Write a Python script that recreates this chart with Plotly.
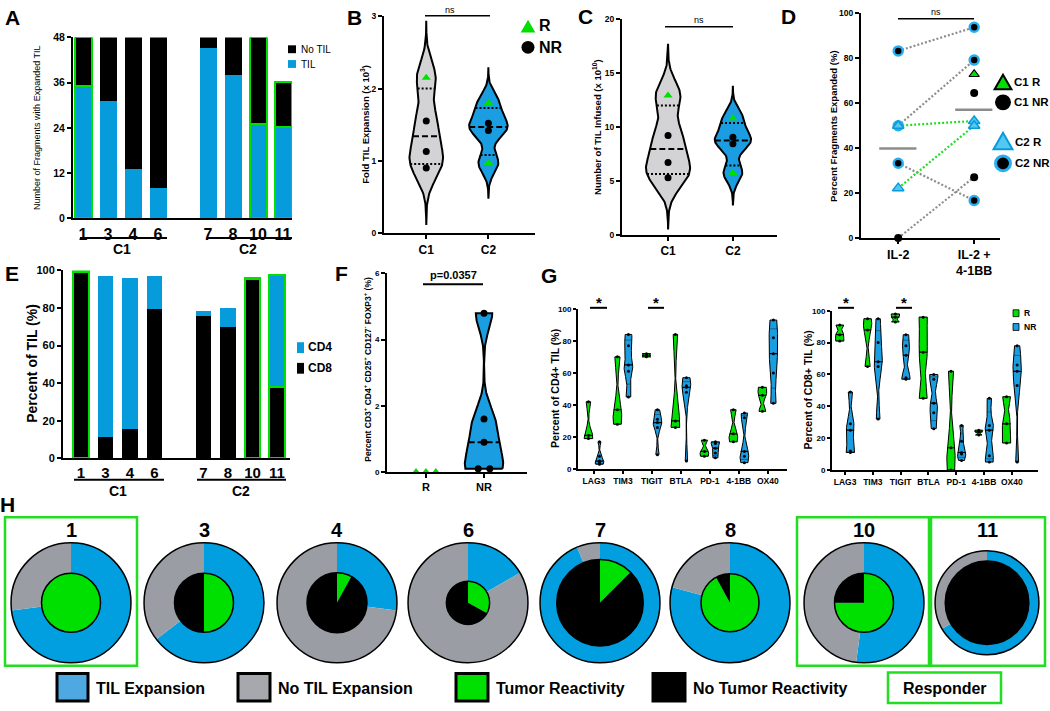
import numpy as np
import plotly.graph_objects as go

W, H = 1050, 711
FONT = 'Liberation Sans, Arial, Helvetica, sans-serif'

BLUE = '#069cdc'
BLUE_V = '#1b9de2'
BLUE_PIE = '#029fe0'
BLUE_LEG = '#4ea9e2'
GREEN = '#00e000'
GREEN_LINE = '#22dd22'
GRAY_PIE = '#9b9da4'
GRAY_LEG = '#a6a8ad'
GRAY_VIOLIN = '#d3d3d5'
DOT_GRAY = '#8c8c8c'

# ---------------------------------------------------------------------------
# Data
# ---------------------------------------------------------------------------
PATIENTS = ['1', '3', '4', '6', '7', '8', '10', '11']
COHORT = ['C1', 'C1', 'C1', 'C1', 'C2', 'C2', 'C2', 'C2']
RESPONDER = [True, False, False, False, False, False, True, True]
FRAG_TIL = [35, 31, 13, 8, 45, 38, 25, 24]          # fragments with TIL
FRAG_TOTAL = [48, 48, 48, 48, 48, 48, 48, 36]       # fragments plated
CD8_PCT = [99, 11, 15.5, 79, 75.5, 69.5, 95, 37.5]
CD4_PCT = [0.5, 86, 80, 18, 2.5, 10, 1, 60]
REACTIVE_PCT = [100, 50, 8, 33, 12.5, 92, 75, 0]

# B: fold expansion (x10^3), C: TIL infused (x10^10)
FOLD_C1 = [2.15, 1.55, 1.13, 0.90]
FOLD_C2 = [1.80, 1.52, 1.42, 0.97]
INFUSED_C1 = [12.9, 9.2, 6.7, 5.3]
INFUSED_C2 = [10.8, 9.05, 8.45, 5.75]
R_FLAG_C1 = [True, False, False, False]
R_FLAG_C2 = [True, False, False, True]

# D: percent fragments expanded, IL-2 vs IL-2 + 4-1BB
D_IL2 = [83.3, 50.0, 33.3, 50.0, 22.2, 0.0]
D_BB = [93.8, 79.2, 16.7, 52.1, 50.0, 27.1]
D_GROUP = ['C2 NR', 'C2 NR', 'C2 NR', 'C2 R', 'C2 R', 'C1 NR']
D_BB_ONLY = [72.9, 64.6]
D_BB_ONLY_GROUP = ['C1 R', 'C1 NR']

# F: Treg percent
TREG_R = [0.0, 0.0, 0.0]
TREG_NR = [4.8, 1.6, 0.9, 0.1, 0.1]

# G: checkpoint markers
G_MARKERS = ['LAG3', 'TIM3', 'TIGIT', 'BTLA', 'PD-1', '4-1BB', 'OX40']
CD4_R = [[19, 21, 42], [28, 37, 70], [70, 71, 72], [26, 30, 84],
         [8, 11, 18], [17, 22, 37], [36, 46, 51]]
CD4_NR = [[3, 4, 5, 8, 17], [45, 61, 65, 77, 84], [9, 26, 29, 31, 37],
          [5, 48, 51, 52, 57], [7, 10, 13, 16, 17], [4, 8, 11, 32, 35],
          [41, 60, 72, 82, 93]]
CD8_R = [[81, 85, 91], [65, 88, 95], [93, 96, 98], [45, 74, 96],
         [0, 14, 62], [22, 24, 25], [17, 29, 46]]
CD8_NR = [[11, 12, 25, 29, 49], [32, 65, 68, 80, 95], [57, 58, 72, 78, 85],
          [26, 36, 42, 57, 60], [6, 10, 11, 18, 28], [5, 9, 25, 28, 45],
          [5, 53, 62, 66, 78]]

# ---------------------------------------------------------------------------
# helpers
# ---------------------------------------------------------------------------
fig = go.Figure()


def X(px):
    return px / W


def Y(py):
    return 1 - py / H


def tf(size, bold=True):
    return dict(family=FONT, size=size, color='black', weight='bold' if bold else 'normal')


def set_axes(n, xpx, ypx, xr, yr, xkw=None, ykw=None):
    sfx = '' if n == 1 else str(n)
    base = dict(showline=True, linecolor='black', linewidth=2, showgrid=False,
                zeroline=False, ticks='outside', tickcolor='black', tickwidth=2,
                ticklen=4, fixedrange=True)
    xa = dict(base, domain=[X(xpx[0]), X(xpx[1])], range=xr, anchor='y' + sfx)
    ya = dict(base, domain=[Y(ypx[1]), Y(ypx[0])], range=yr, anchor='x' + sfx)
    xa.update(xkw or {})
    ya.update(ykw or {})
    fig.update_layout(**{'xaxis' + sfx: xa, 'yaxis' + sfx: ya})
    return 'x' + sfx, 'y' + sfx


def note(text, x, y, size, bold=True, angle=0, xanchor='center'):
    fig.add_annotation(text=text, x=X(x), y=Y(y), xref='paper', yref='paper',
                       showarrow=False, font=tf(size, bold), textangle=angle,
                       xanchor=xanchor, yanchor='middle')


def hline(x0, x1, y, color='black', width=2):
    fig.add_shape(type='line', x0=X(x0), x1=X(x1), y0=Y(y), y1=Y(y),
                  xref='paper', yref='paper', line=dict(color=color, width=width))


def box(x0, y0, x1, y1, fill, edge, lw):
    fig.add_shape(type='rect', x0=X(x0), x1=X(x1), y0=Y(y1), y1=Y(y0),
                  xref='paper', yref='paper', fillcolor=fill,
                  line=dict(color=edge, width=lw))


def tri(cx, cy, s, fill, edge, lw):
    pts = [(cx, cy - s), (cx + s * 1.05, cy + s * 0.85), (cx - s * 1.05, cy + s * 0.85)]
    path = 'M ' + ' L '.join(f'{X(a):.5f},{Y(b):.5f}' for a, b in pts) + ' Z'
    fig.add_shape(type='path', path=path, xref='paper', yref='paper',
                  fillcolor=fill, line=dict(color=edge, width=lw))


def dot(cx, cy, r, fill, edge, lw):
    fig.add_shape(type='circle', x0=X(cx - r), x1=X(cx + r), y0=Y(cy + r), y1=Y(cy - r),
                  xref='paper', yref='paper', fillcolor=fill,
                  line=dict(color=edge, width=lw))


def violin(xa, ya, center, vals, fill, half_w, bw_k, tail=0.0, lw=2.0,
           med=None, quart=None, n=160):
    """Gaussian-KDE violin outline drawn as a filled scatter polygon."""
    v = np.asarray(vals, float)
    bw = max(bw_k * v.std(ddof=1), 1e-6)
    lo, hi = v.min() - tail * bw, v.max() + tail * bw
    ys = np.linspace(lo, hi, n)
    dens = np.exp(-0.5 * ((ys[:, None] - v[None, :]) / bw) ** 2).sum(axis=1)
    w = dens / dens.max() * half_w
    xs = np.r_[center + w, (center - w)[::-1], center + w[0]]
    yy = np.r_[ys, ys[::-1], ys[0]]
    fig.add_trace(go.Scatter(x=xs, y=yy, mode='lines', fill='toself', fillcolor=fill,
                             line=dict(color='black', width=lw), xaxis=xa, yaxis=ya,
                             hoverinfo='skip', showlegend=False, cliponaxis=False))
    q1, q2, q3 = np.percentile(v, [25, 50, 75], method='weibull')
    lines = [(q2, med)] + ([(q1, quart), (q3, quart)] if quart else [])
    for q, st in lines:
        hw = float(np.interp(q, ys, w))
        fig.add_trace(go.Scatter(x=[center - hw, center + hw], y=[q, q], mode='lines',
                                 line=st, xaxis=xa, yaxis=ya, hoverinfo='skip',
                                 showlegend=False))


def points(xa, ya, xs, ys, symbol, color, size, edge='black', lw=0):
    fig.add_trace(go.Scatter(x=xs, y=ys, mode='markers', xaxis=xa, yaxis=ya,
                             marker=dict(symbol=symbol, color=color, size=size,
                                         line=dict(color=edge, width=lw)),
                             hoverinfo='skip', showlegend=False, cliponaxis=False))


def swarm(vals, step):
    """Offsets that spread repeated values side by side."""
    out, seen = [], {}
    counts = {v: vals.count(v) for v in vals}
    for v in vals:
        k = seen.get(v, 0)
        seen[v] = k + 1
        out.append((k - (counts[v] - 1) / 2) * step)
    return out


slots = [i + (1 if c == 'C2' else 0) for i, c in enumerate(COHORT)]
edge_col = [GREEN if r else 'rgba(0,0,0,0)' for r in RESPONDER]
edge_w = [2.5 if r else 0 for r in RESPONDER]

# ---------------------------------------------------------------------------
# A: fragments with expanded TIL
# ---------------------------------------------------------------------------
xa, ya = set_axes(1, (73, 292), (32, 216), [-0.4, 8.36], [0, 48],
                  xkw=dict(tickvals=slots, ticktext=PATIENTS, ticks='', tickfont=tf(16)),
                  ykw=dict(tickvals=[0, 12, 24, 36, 48], tickfont=tf(10.5)))
no_til = [t - s for t, s in zip(FRAG_TOTAL, FRAG_TIL)]
for vals, col in ((FRAG_TIL, BLUE), (no_til, 'black')):
    fig.add_trace(go.Bar(x=slots, y=vals, width=0.68, xaxis=xa, yaxis=ya,
                         marker=dict(color=col, line=dict(color=edge_col, width=edge_w)),
                         hoverinfo='skip', showlegend=False))
note('Number of Fragments with Expanded TIL', 37, 124, 9, bold=False, angle=-90)
hline(80, 167, 236)
hline(207, 292, 236)
note('C1', 122, 247, 14)
note('C2', 248, 247, 14)
box(288, 40, 296, 48, 'black', 'black', 0)
box(288, 55, 296, 63, BLUE, BLUE, 0)
note('No TIL', 299, 44, 10, bold=False, xanchor='left')
note('TIL', 299, 59, 10, bold=False, xanchor='left')

# ---------------------------------------------------------------------------
# B / C: violins
# ---------------------------------------------------------------------------
for n, xpx, ypx, xr, yr, dtick, c1, c2, widths, title, tx in (
        (2, (384, 535), (10.5, 231), [-0.68, 1.75], [0, 3], 1, FOLD_C1, FOLD_C2,
         (0.27, 0.31), 'Fold TIL Expansion (x 10<sup>3</sup>)', 365),
        (3, (622, 777), (13, 233), [-0.71, 1.68], [0, 20], 5, INFUSED_C1, INFUSED_C2,
         (0.34, 0.28), 'Number of TIL Infused (x 10<sup>10</sup>)', 597)):
    xa, ya = set_axes(n, xpx, ypx, xr, yr,
                      xkw=dict(tickvals=[0, 1], ticktext=['C1', 'C2'], tickfont=tf(12)),
                      ykw=dict(dtick=dtick, tickfont=tf(8.5)))
    for k, (vals, flags, fill) in enumerate(((c1, R_FLAG_C1, GRAY_VIOLIN),
                                             (c2, R_FLAG_C2, BLUE_V))):
        violin(xa, ya, k, vals, fill, widths[k], 0.41, tail=3.5, lw=2,
               med=dict(color='black', width=2, dash='6px,3px'),
               quart=dict(color='black', width=2, dash='2px,2px'))
        rv = [v for v, f in zip(vals, flags) if f]
        nv = [v for v, f in zip(vals, flags) if not f]
        points(xa, ya, [k] * len(nv), nv, 'circle', 'black', 7)
        points(xa, ya, [k] * len(rv), rv, 'triangle-up', GREEN, 8)
    note(title, tx, (ypx[0] + ypx[1]) / 2, 9.5, angle=-90)

hline(425, 490, 10, width=1.5)
note('ns', 450, 4, 9, bold=False)
hline(665, 733, 21, width=1.5)
note('ns', 699, 14, 9, bold=False)
tri(528, 21, 7, GREEN, GREEN, 0)
dot(528, 42, 6.5, 'black', 'black', 0)
note('R', 537, 20, 16, xanchor='left')
note('NR', 537, 42, 16, xanchor='left')

# ---------------------------------------------------------------------------
# D: paired IL-2 vs IL-2 + 4-1BB
# ---------------------------------------------------------------------------
xa, ya = set_axes(4, (861, 1000), (7.5, 236), [-0.49, 1.34], [0, 100],
                  xkw=dict(tickvals=[0, 1], ticktext=['IL-2', 'IL-2 +<br>4-1BB'],
                           tickfont=tf(12.5)),
                  ykw=dict(dtick=20, tickfont=tf(8.5)))
for a, b, g in zip(D_IL2, D_BB, D_GROUP):
    fig.add_trace(go.Scatter(x=[0, 1], y=[a, b], mode='lines', xaxis=xa, yaxis=ya,
                             line=dict(color=GREEN_LINE if g.endswith(' R') else DOT_GRAY,
                                       width=2.2, dash='2px,2px'),
                             hoverinfo='skip', showlegend=False))
for k, vals in enumerate((D_IL2, D_BB + D_BB_ONLY)):
    m = float(np.mean(vals))
    fig.add_trace(go.Scatter(x=[k - 0.25, k + 0.24], y=[m, m], mode='lines',
                             xaxis=xa, yaxis=ya, line=dict(color=DOT_GRAY, width=2.5),
                             hoverinfo='skip', showlegend=False))
D_STYLE = {
    'C1 NR': dict(symbol='circle', color='black', size=8, edge='black', lw=0),
    'C2 NR': dict(symbol='circle', color='black', size=9, edge='#27aef0', lw=2.5),
    'C1 R': dict(symbol='triangle-up', color=GREEN, size=9, edge='black', lw=1.2),
    'C2 R': dict(symbol='triangle-up', color='#56c7f0', size=10, edge=BLUE, lw=1.5),
}
for g in ('C1 NR', 'C2 NR', 'C1 R', 'C2 R'):
    st = D_STYLE[g]
    xs = [0 for gg in D_GROUP if gg == g] + \
         [1 for gg in D_GROUP if gg == g] + \
         [1 for gg in D_BB_ONLY_GROUP if gg == g]
    ys = [v for v, gg in zip(D_IL2, D_GROUP) if gg == g] + \
         [v for v, gg in zip(D_BB, D_GROUP) if gg == g] + \
         [v for v, gg in zip(D_BB_ONLY, D_BB_ONLY_GROUP) if gg == g]
    points(xa, ya, xs, ys, st['symbol'], st['color'], st['size'], st['edge'], st['lw'])
note('Percent Fragments Expanded (%)', 834, 122, 9.5, angle=-90)
hline(898, 974, 13, width=1.5)
note('ns', 936, 6, 9, bold=False)
tri(1003, 78, 8, GREEN, 'black', 2)
dot(1003, 98, 8, 'black', 'black', 0)
tri(1003, 138, 9, '#56c7f0', BLUE, 2)
dot(1003, 160, 7.5, 'black', '#27aef0', 3)
note('C1 R', 1012, 77, 11.5, xanchor='left')
note('C1 NR', 1012, 98, 11.5, xanchor='left')
note('C2 R', 1013, 138, 11.5, xanchor='left')
note('C2 NR', 1013, 160, 11.5, xanchor='left')

# ---------------------------------------------------------------------------
# E: CD4 / CD8 composition
# ---------------------------------------------------------------------------
xa, ya = set_axes(5, (63, 290), (269, 460), [-0.735, 8.53], [0, 100],
                  xkw=dict(tickvals=slots, ticktext=PATIENTS, ticks='', tickfont=tf(15)),
                  ykw=dict(dtick=20, tickfont=tf(11)))
for vals, col in ((CD8_PCT, 'black'), (CD4_PCT, BLUE)):
    fig.add_trace(go.Bar(x=slots, y=vals, width=0.65, xaxis=xa, yaxis=ya,
                         marker=dict(color=col, line=dict(color=edge_col, width=edge_w)),
                         hoverinfo='skip', showlegend=False))
note('Percent of TIL (%)', 32, 364, 14, angle=-90)
hline(74, 164, 482)
hline(197, 286, 482)
note('C1', 118, 493, 14)
note('C2', 241, 493, 14)
box(297, 342, 304, 353, BLUE, BLUE, 0)
box(297, 363, 304, 374, 'black', 'black', 0)
note('CD4', 306, 347, 12, xanchor='left')
note('CD8', 306, 368, 12, xanchor='left')

# ---------------------------------------------------------------------------
# F: Tregs
# ---------------------------------------------------------------------------
xa, ya = set_axes(6, (387, 527), (272, 474), [-0.67, 1.74], [0, 6],
                  xkw=dict(tickvals=[0, 1], ticktext=['R', 'NR'], tickfont=tf(11)),
                  ykw=dict(dtick=2, tickfont=tf(8)))
violin(xa, ya, 1, TREG_NR, BLUE_V, 0.33, 0.25, tail=0, lw=2,
       med=dict(color='black', width=2, dash='6px,3px'))
points(xa, ya, [0 + o for o in swarm(TREG_R, 0.17)], TREG_R, 'triangle-up', GREEN, 8)
points(xa, ya, [1 + o for o in swarm(TREG_NR, 0.2)], TREG_NR, 'circle', 'black', 7)
note('Percent CD3<sup>+</sup> CD4<sup>+</sup> CD25<sup>+</sup> CD127<sup>-</sup> '
     'FOXP3<sup>+</sup> (%)', 368, 370, 8.5, angle=-90)
hline(423, 483, 283, width=2)
note('p=0.0357', 453, 274, 11)

# ---------------------------------------------------------------------------
# G: checkpoint violins (CD4 left, CD8 right)
# ---------------------------------------------------------------------------
for n, xpx, ypx, xr, r_sets, nr_sets, title, tx in (
        (7, (578, 787), (308, 471), [-0.55, 6.66], CD4_R, CD4_NR,
         'Percent of CD4+ TIL (%)', 555),
        (8, (832, 1038), (310, 472), [-0.47, 6.94], CD8_R, CD8_NR,
         'Percent of CD8+ TIL (%)', 808)):
    xa, ya = set_axes(n, xpx, ypx, xr, [0, 100],
                      xkw=dict(tickvals=list(range(len(G_MARKERS))), ticktext=G_MARKERS,
                               ticklen=3, tickfont=tf(8.5)),
                      ykw=dict(dtick=20, ticklen=3, tickfont=tf(8)))
    for k in range(len(G_MARKERS)):
        for vals, off, col in ((r_sets[k], -0.19, GREEN), (nr_sets[k], 0.19, BLUE_V)):
            violin(xa, ya, k + off, vals, col, 0.15, 0.35, tail=0, lw=1,
                   med=dict(color='black', width=1.2),
                   quart=dict(color='rgba(0,0,0,0.45)', width=0.8))
            points(xa, ya, [k + off] * len(vals), vals, 'circle', 'black', 3)
    note(title, tx, (ypx[0] + ypx[1]) / 2, 10.5, angle=-90)

for x0, x1 in ((590, 607), (648, 664), (838, 854), (896, 912)):
    hline(x0, x1, 307, width=2)
    note('*', (x0 + x1) / 2, 302, 15)
box(1013, 309, 1019, 316, GREEN, 'black', 0.8)
box(1013, 323, 1019, 330, BLUE_V, 'black', 0.8)
note('R', 1022, 312, 8.5, xanchor='left')
note('NR', 1022, 326.5, 8.5, xanchor='left')

# ---------------------------------------------------------------------------
# H: per-patient donuts
# ---------------------------------------------------------------------------
PIE_CX = [71, 204, 337, 468, 600, 730, 864, 987]
PIE_CY = 607
PIE_R = 61
INNER_R = [30, 30, 30.5, 22, 44, 29.5, 30, 42.5]
for i, p in enumerate(PATIENTS):
    cx = PIE_CX[i]
    r_out = PIE_R * np.sqrt(FRAG_TOTAL[i] / max(FRAG_TOTAL))
    rings = ((r_out, [FRAG_TIL[i], FRAG_TOTAL[i] - FRAG_TIL[i]], [BLUE_PIE, GRAY_PIE]),
             (INNER_R[i], [REACTIVE_PCT[i], 100 - REACTIVE_PCT[i]], [GREEN, 'black']))
    for r, vals, cols in rings:
        dom = dict(x=[X(cx - r), X(cx + r)], y=[Y(PIE_CY + r), Y(PIE_CY - r)])
        fig.add_trace(go.Pie(values=vals, marker=dict(colors=cols, line=dict(width=0)),
                             domain=dom, sort=False, direction='clockwise', rotation=0,
                             textinfo='none', hoverinfo='skip', showlegend=False))
        fig.add_trace(go.Pie(values=[1], domain=dom, textinfo='none', hoverinfo='skip',
                             marker=dict(colors=['rgba(0,0,0,0)'],
                                         line=dict(color='black', width=1.5)),
                             showlegend=False))
    note(p, cx, 533, 20)

box(5, 520, 137, 671, 'rgba(0,0,0,0)', GREEN_LINE, 2.5)
box(797, 520, 929, 671, 'rgba(0,0,0,0)', GREEN_LINE, 2.5)
box(931, 520, 1045, 671, 'rgba(0,0,0,0)', GREEN_LINE, 2.5)

LEGEND_H = [('TIL Expansion', BLUE_LEG, 57, 88), ('No TIL Expansion', GRAY_LEG, 238, 270),
            ('Tumor Reactivity', GREEN, 456, 488), ('No Tumor Reactivity', 'black', 653, 685)]
for label, col, x0, x1 in LEGEND_H:
    box(x0, 679, x1, 707, col, 'black', 3)
    note(label, x1 + 6, 694, 16, xanchor='left')
box(888, 678, 1001, 709, 'rgba(0,0,0,0)', GREEN_LINE, 2.5)
note('Responder', 945, 694, 16)

# panel letters
for letter, x, y in (('A', 12, 12), ('B', 354, 12), ('C', 585, 11), ('D', 788, 11),
                     ('E', 12, 272), ('F', 341, 272), ('G', 549, 274), ('H', 7, 507)):
    note(letter, x, y, 21)

fig.update_layout(width=W, height=H, margin=dict(l=0, r=0, t=0, b=0),
                  paper_bgcolor='white', plot_bgcolor='rgba(0,0,0,0)',
                  barmode='stack', bargap=0, showlegend=False, hovermode=False,
                  font=dict(family=FONT, color='black'))
# the page body has a default 8px margin; drop it so the figure fills the window
fig.write_html('out.html', config={'displayModeBar': False},
               post_script="document.body.style.margin='0px';")
